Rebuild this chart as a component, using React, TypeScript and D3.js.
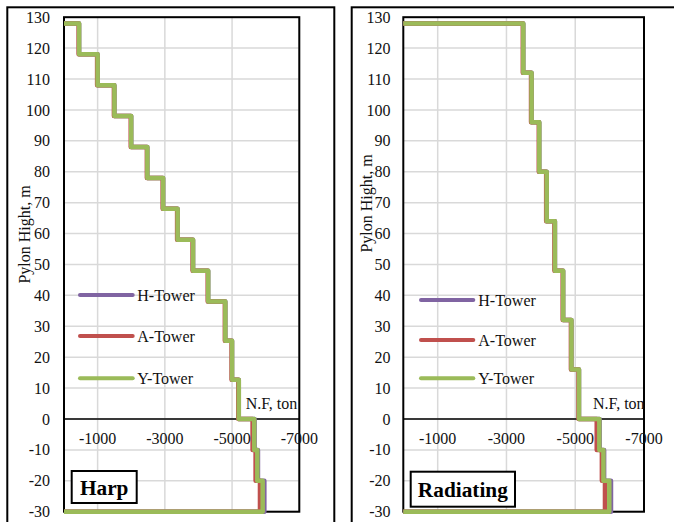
import React from "react";
import * as d3 from "d3";

// Normal force (ton) along pylon height (m): stepwise profile per tower type.
// Each force value applies to the segment between two consecutive heights.
const seriesNames = ["H-Tower", "A-Tower", "Y-Tower"];
const seriesColors = ["#8064A2", "#C0504D", "#9BBB59"];

const harpHeights = [128, 118, 108, 98, 88, 78, 68, 58, 48, 38, 25.3, 12.7, 0, -10, -20, -30];
const harpH = [-450, -1000, -1500, -2000, -2480, -2950, -3380, -3840, -4290, -4800, -5000, -5200, -5670, -5770, -5960];
const harpA = [-435, -985, -1485, -1985, -2465, -2935, -3365, -3825, -4275, -4785, -4985, -5185, -5610, -5700, -5830];
const harpY = [-450, -1000, -1500, -2000, -2480, -2950, -3380, -3840, -4290, -4800, -5000, -5200, -5660, -5750, -5910];

const radHeights = [128, 112, 96, 80, 64, 48, 32, 16, 0, -10, -20, -30];
const radH = [-3490, -3730, -3955, -4170, -4410, -4650, -4890, -5110, -5710, -5840, -6040];
const radA = [-3475, -3715, -3940, -4155, -4395, -4635, -4875, -5095, -5625, -5775, -5865];
const radY = [-3490, -3730, -3955, -4170, -4410, -4650, -4890, -5110, -5700, -5820, -5990];

const xTicks = [-1000, -3000, -5000, -7000];
const yTicks = [-30, -20, -10, 0, 10, 20, 30, 40, 50, 60, 70, 80, 90, 100, 110, 120, 130];

const FONT = "'Liberation Serif', 'Times New Roman', serif";

type PanelProps = {
  name: string;
  heights: number[];
  series: number[][];
  frame: [number, number, number, number];
  plot: [number, number, number, number];
  yLabelX: number;
  titleX: number;
  titleY: number;
  legend: { x1: number; x2: number; tx: number; ys: number[] };
  nfX: number;
  box: [number, number, number, number];
  boxTextY: number;
};

function stepPoints(heights: number[], forces: number[]): [number, number][] {
  const pts: [number, number][] = [[0, heights[0]]];
  forces.forEach((f, i) => {
    pts.push([f, heights[i]]);
    pts.push([f, heights[i + 1]]);
  });
  pts.push([0, heights[heights.length - 1]]);
  return pts;
}

function Panel(p: PanelProps) {
  const [pl, pt, pr, pb] = p.plot;
  const x = d3.scaleLinear().domain([0, -7000]).range([pl, pr]);
  const y = d3.scaleLinear().domain([-30, 130]).range([pb, pt]);
  const line = d3
    .line<[number, number]>()
    .x((d) => x(d[0]))
    .y((d) => y(d[1]));
  const [fx, fy, fw, fh] = p.frame;
  const [bx, by, bw, bh] = p.box;
  return (
    <g>
      <rect x={fx} y={fy} width={fw} height={fh} fill="#fff" stroke="#000" strokeWidth={2} />
      {yTicks.map((t) => (
        <line key={"gy" + t} x1={pl} x2={pr} y1={y(t)} y2={y(t)} stroke="#d9d9d9" strokeWidth={1.5} />
      ))}
      {xTicks.map((t) => (
        <line key={"gx" + t} x1={x(t)} x2={x(t)} y1={pt} y2={pb} stroke="#d9d9d9" strokeWidth={1.5} />
      ))}
      <rect x={pl} y={pt} width={pr - pl} height={pb - pt} fill="none" stroke="#000" strokeWidth={2} />
      <line x1={pl} x2={pr} y1={y(0)} y2={y(0)} stroke="#000" strokeWidth={1.5} />
      {p.series.map((s, i) => (
        <path
          key={"s" + i}
          d={line(stepPoints(p.heights, s)) || ""}
          fill="none"
          stroke={seriesColors[i]}
          strokeWidth={4.5}
          strokeLinejoin="round"
        />
      ))}
      {yTicks.map((t) => (
        <text key={"ly" + t} x={p.yLabelX} y={y(t)} dy="0.35em" textAnchor="end" fontSize={16} fontFamily={FONT} fill="#111">
          {t}
        </text>
      ))}
      {xTicks.map((t) => (
        <text key={"lx" + t} x={x(t)} y={443.5} textAnchor="middle" fontSize={16} fontFamily={FONT} fill="#111">
          {t}
        </text>
      ))}
      <text
        transform={`translate(${p.titleX},${p.titleY}) rotate(-90)`}
        textAnchor="middle"
        fontSize={16}
        fontFamily={FONT}
        fill="#111"
      >
        Pylon Hight, m
      </text>
      <text x={p.nfX} y={409} fontSize={16} fontFamily={FONT} fill="#111">
        N.F, ton
      </text>
      {seriesNames.map((n, i) => (
        <g key={"lg" + n}>
          <line
            x1={p.legend.x1}
            x2={p.legend.x2}
            y1={p.legend.ys[i]}
            y2={p.legend.ys[i]}
            stroke={seriesColors[i]}
            strokeWidth={4}
            strokeLinecap="round"
          />
          <text x={p.legend.tx} y={p.legend.ys[i]} dy="0.35em" fontSize={16} fontFamily={FONT} fill="#111">
            {n}
          </text>
        </g>
      ))}
      <rect x={bx} y={by} width={bw} height={bh} fill="#fff" stroke="#000" strokeWidth={2} />
      <text x={bx + bw / 2} y={p.boxTextY} textAnchor="middle" fontSize={21.3} fontWeight="bold" fontFamily={FONT} fill="#000">
        {p.name}
      </text>
    </g>
  );
}

export default function App() {
  return (
    <svg
      width={674}
      height={522}
      style={{ position: "absolute", left: 0, top: 0, background: "#fff" }}
    >
      <Panel
        name="Harp"
        heights={harpHeights}
        series={[harpH, harpA, harpY]}
        frame={[7.3, 7.3, 327, 530]}
        plot={[64, 17.2, 299.3, 511.7]}
        yLabelX={50}
        titleX={29.5}
        titleY={234.5}
        legend={{ x1: 80, x2: 132.7, tx: 137.3, ys: [295, 336, 378.3] }}
        nfX={245.7}
        box={[71.7, 471, 65, 32]}
        boxTextY={494.5}
      />
      <Panel
        name="Radiating"
        heights={radHeights}
        series={[radH, radA, radY]}
        frame={[351.7, 7.3, 340, 530]}
        plot={[403.3, 17.2, 644, 511.7]}
        yLabelX={390.6}
        titleX={371.5}
        titleY={203.5}
        legend={{ x1: 421, x2: 473.3, tx: 478.3, ys: [300, 340, 378.3] }}
        nfX={593}
        box={[410.7, 471.7, 104.3, 35]}
        boxTextY={496.5}
      />
    </svg>
  );
}
